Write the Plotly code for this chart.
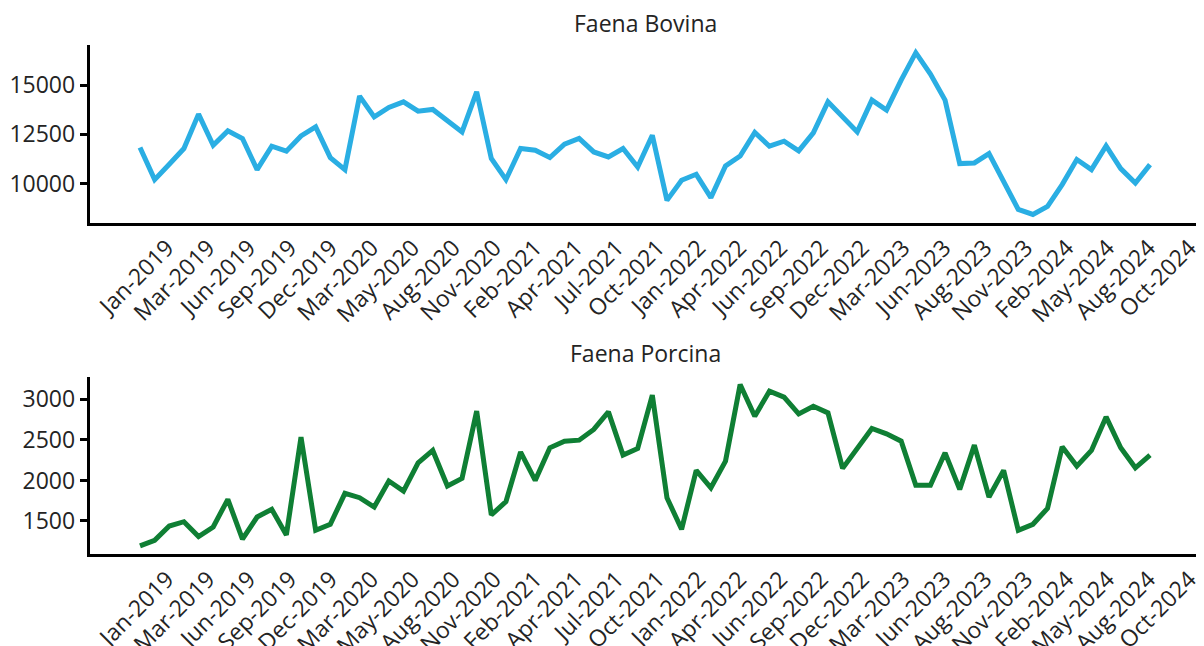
import numpy as np
import pandas as pd
import plotly.graph_objects as go

# ---- data -------------------------------------------------------------
months = [d.strftime("%b-%Y") for d in pd.date_range("2019-01-01", "2024-10-01", freq="MS")]

bovina = [11831, 10203, 10982, 11780, 13525, 11948, 12677, 12289, 10712, 11897,
          11643, 12421, 12879, 11322, 10712, 14440, 13388, 13866, 14150, 13677,
          13764, 13220, 12625, 14659, 11272, 10203, 11780, 11694, 11322, 11999,
          12289, 11607, 11353, 11780, 10846, 12456, 9151, 10168, 10473, 9288,
          10895, 11404, 12594, 11897, 12152, 11658, 12574, 14150, 13388, 12625,
          14237, 13728, 15254, 16643, 15559, 14237, 11017, 11048, 11526, 10081,
          8693, 8438, 8845, 9949, 11221, 10712, 11913, 10763, 10031, 10966]

porcina = [1192, 1262, 1438, 1491, 1307, 1426, 1767, 1275, 1549, 1644,
           1328, 2534, 1385, 1459, 1841, 1787, 1672, 1993, 1869, 2218,
           2370, 1931, 2026, 2855, 1574, 1738, 2350, 2001, 2403, 2485,
           2497, 2629, 2846, 2313, 2395, 3052, 1787, 1397, 2124, 1910,
           2239, 3183, 2793, 3101, 3027, 2821, 2916, 2834, 2149, 2390,
           2641, 2575, 2485, 1940, 1940, 2341, 1890, 2436, 1796, 2124,
           1385, 1459, 1656, 2415, 2177, 2370, 2784, 2403, 2156, 2313]

tick_labels = ["Jan-2019", "Mar-2019", "Jun-2019", "Sep-2019", "Dec-2019",
               "Mar-2020", "May-2020", "Aug-2020", "Nov-2020", "Feb-2021",
               "Apr-2021", "Jul-2021", "Oct-2021", "Jan-2022", "Apr-2022",
               "Jun-2022", "Sep-2022", "Dec-2022", "Mar-2023", "Jun-2023",
               "Aug-2023", "Nov-2023", "Feb-2024", "May-2024", "Aug-2024",
               "Oct-2024"]

titles = ["Faena Bovina", "Faena Porcina"]
colors = ["#2aaee3", "#0f7f34"]

# ---- figure -----------------------------------------------------------
W, H = 1196, 638
idx = np.arange(len(months))
n = len(months)
pad = 0.05 * (n - 1)
xrange = [-pad, n - 1 + pad]
tickpos = np.linspace(1.86, 71.7, len(tick_labels))

def yr(v):
    lo, hi = min(v), max(v)
    p = 0.05 * (hi - lo)
    return [lo - p, hi + p]

def frac_y(px):
    return 1 - px / H

x_dom = [81.5 / W, 1192.5 / W]
y_doms = [[frac_y(214.5), frac_y(36.6)], [frac_y(546.0), frac_y(368.5)]]
title_y = [15, 345]

fig = go.Figure()
series = [bovina, porcina]
for k, vals in enumerate(series):
    sfx = "" if k == 0 else str(k + 1)
    fig.add_trace(go.Scatter(
        x=idx, y=vals, mode="lines", name=titles[k], text=months,
        hovertemplate="%{text}: %{y}<extra></extra>",
        line=dict(color=colors[k], width=5),
        xaxis="x" + sfx, yaxis="y" + sfx, showlegend=False))

font = dict(family="Open Sans, sans-serif", size=23, color="rgb(36,36,36)")
axis_common = dict(showline=True, linecolor="black", linewidth=2.5,
                   showgrid=False, zeroline=False, automargin=False)

layout = dict(width=W, height=H, margin=dict(l=0, r=0, t=0, b=0),
              paper_bgcolor="white", plot_bgcolor="white", font=font,
              showlegend=False)
annotations = []
for k, vals in enumerate(series):
    sfx = "" if k == 0 else str(k + 1)
    layout["xaxis" + sfx] = dict(domain=x_dom, anchor="y" + sfx, range=xrange,
                                 tickmode="array", tickvals=list(tickpos),
                                 ticktext=tick_labels, tickangle=-45, ticks="",
                                 ticklabeloverflow="allow",
                                 **axis_common)
    layout["yaxis" + sfx] = dict(domain=y_doms[k], anchor="x" + sfx, range=yr(vals),
                                 dtick=2500 if k == 0 else 500, tickformat="d",
                                 ticks="outside", ticklen=7, tickwidth=2.5,
                                 tickcolor="black", **axis_common)
    annotations.append(dict(text=titles[k], xref="paper", yref="paper",
                            x=(x_dom[0] + x_dom[1]) / 2, y=frac_y(title_y[k]),
                            xanchor="center", yanchor="middle", showarrow=False,
                            font=dict(size=23, color="rgb(36,36,36)")))
layout["annotations"] = annotations
fig.update_layout(**layout)

fig.write_html("out.html")
